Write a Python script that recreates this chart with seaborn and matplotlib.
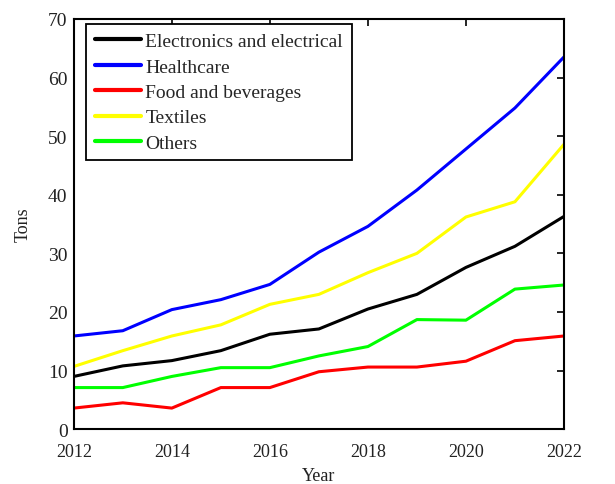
import numpy as np
import pandas as pd
import matplotlib.pyplot as plt
import seaborn as sns

years = list(range(2012, 2023))
electronics = [9.0, 10.8, 11.7, 13.4, 16.2, 17.1, 20.5, 23.0, 27.6, 31.2, 36.3]
healthcare = [15.9, 16.8, 20.4, 22.1, 24.7, 30.2, 34.6, 40.8, 47.8, 54.8, 63.5]
food = [3.6, 4.5, 3.6, 7.1, 7.1, 9.8, 10.6, 10.6, 11.6, 15.1, 15.9]
textiles = [10.7, 13.4, 15.9, 17.8, 21.3, 23.0, 26.7, 30.0, 36.2, 38.8, 48.6]
others = [7.1, 7.1, 9.0, 10.5, 10.5, 12.5, 14.1, 18.7, 18.6, 23.9, 24.6]

series = ['Electronics and electrical', 'Healthcare', 'Food and beverages', 'Textiles', 'Others']
colors = ['#000000', '#0000ff', '#ff0000', '#ffff00', '#00ff00']

df = pd.DataFrame({
    'Year': years * 5,
    'Tons': electronics + healthcare + food + textiles + others,
    'Sector': np.repeat(series, len(years)),
})

sns.set_style("white")
plt.rcParams['font.family'] = ['Liberation Serif', 'DejaVu Serif']

fig = plt.figure(figsize=(6.15, 4.85), dpi=100)
ax = fig.add_axes([0.120, 0.113, 0.797, 0.846])
sns.lineplot(data=df, x='Year', y='Tons', hue='Sector', palette=colors,
             hue_order=series, linewidth=2.2, ax=ax)

ax.set_xlim(2012, 2022)
ax.set_ylim(0, 70)
ax.set_xticks(range(2012, 2023, 2))
ax.set_yticks(range(0, 71, 10))
ax.tick_params(direction='in', top=True, right=True, length=5, width=1.2,
               color='black', labelcolor='#222222')
ax.tick_params(axis='x', labelsize=13, pad=10)
ax.tick_params(axis='y', labelsize=14, pad=4.5)
for s in ax.spines.values():
    s.set_color('black')
    s.set_linewidth(1.5)
ax.set_xlabel('Year', fontsize=13, color='#222222', labelpad=5)
ax.set_ylabel('Tons', fontsize=13, color='#222222', labelpad=12)

leg = ax.legend(loc='upper left', bbox_to_anchor=(0.025, 0.988), borderaxespad=0,
                fontsize=14, frameon=True, fancybox=False, framealpha=1,
                edgecolor='black', handlelength=2.4, handletextpad=0.2,
                borderpad=0.45, labelspacing=0.4)
leg.get_frame().set_linewidth(1.3)
for line in leg.get_lines():
    line.set_linewidth(3)

fig.savefig('out.png', dpi=100)
